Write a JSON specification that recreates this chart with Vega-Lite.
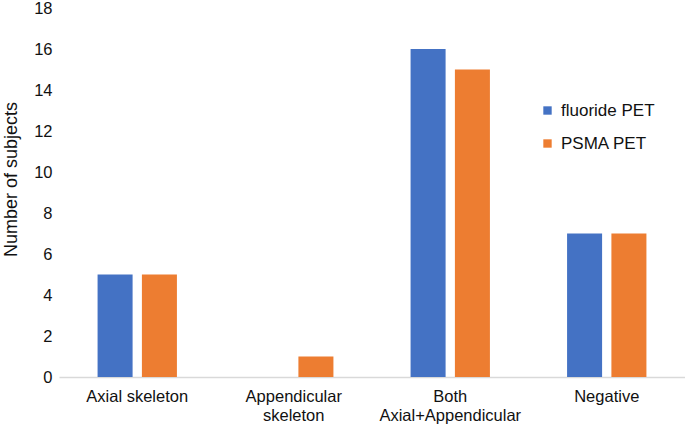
{
  "$schema": "https://vega.github.io/schema/vega-lite/v6.json",
  "width": 626,
  "height": 369,
  "autosize": {"type": "none"},
  "padding": {"left": 59, "top": 8, "right": 0, "bottom": 51},
  "background": "white",
  "config": {
    "view": {"stroke": null},
    "font": "Liberation Sans",
    "axis": {"labelFont": "Liberation Sans", "titleFont": "Liberation Sans", "labelColor": "#111", "titleColor": "#111"}
  },
  "data": {
    "values": [
      {"site": "Axial skeleton", "modality": "fluoride PET", "count": 5},
      {"site": "Axial skeleton", "modality": "PSMA PET", "count": 5},
      {"site": "Appendicular skeleton", "modality": "fluoride PET", "count": 0},
      {"site": "Appendicular skeleton", "modality": "PSMA PET", "count": 1},
      {"site": "Both Axial+Appendicular", "modality": "fluoride PET", "count": 16},
      {"site": "Both Axial+Appendicular", "modality": "PSMA PET", "count": 15},
      {"site": "Negative", "modality": "fluoride PET", "count": 7},
      {"site": "Negative", "modality": "PSMA PET", "count": 7}
    ]
  },
  "mark": {"type": "bar"},
  "encoding": {
    "x": {
      "field": "site",
      "type": "nominal",
      "sort": null,
      "scale": {"paddingInner": 0.493, "paddingOuter": 0.2465},
      "axis": {
        "title": null,
        "labelAngle": 0,
        "ticks": false,
        "domainColor": "#d9d9d9",
        "domainWidth": 1.5,
        "labelFontSize": 16.5,
        "labelPadding": 11,
        "labelLineHeight": 19,
        "labelBaseline": "top",
        "labelExpr": "datum.label == 'Appendicular skeleton' ? ['Appendicular', 'skeleton'] : datum.label == 'Both Axial+Appendicular' ? ['Both', 'Axial+Appendicular'] : datum.label"
      }
    },
    "xOffset": {
      "field": "modality",
      "type": "nominal",
      "sort": ["fluoride PET", "PSMA PET"],
      "scale": {"paddingInner": 0.21, "paddingOuter": 0}
    },
    "y": {
      "field": "count",
      "type": "quantitative",
      "scale": {"domain": [0, 18]},
      "axis": {
        "title": "Number of subjects",
        "values": [0, 2, 4, 6, 8, 10, 12, 14, 16, 18],
        "grid": false,
        "domain": false,
        "ticks": false,
        "labelFontSize": 16.5,
        "labelPadding": 7,
        "titleFontSize": 18,
        "titleFontWeight": "normal",
        "titleX": -48,
        "titleY": 171,
        "titleBaseline": "middle"
      }
    },
    "color": {
      "field": "modality",
      "type": "nominal",
      "sort": ["fluoride PET", "PSMA PET"],
      "scale": {"domain": ["fluoride PET", "PSMA PET"], "range": ["#4472C4", "#ED7D31"]},
      "legend": {
        "title": null,
        "orient": "none",
        "legendX": 480,
        "legendY": 94,
        "symbolType": "square",
        "symbolSize": 70,
        "symbolStrokeWidth": 0,
        "labelFontSize": 17,
        "labelColor": "#111",
        "labelFont": "Liberation Sans",
        "labelOffset": 5,
        "rowPadding": 15
      }
    }
  }
}
